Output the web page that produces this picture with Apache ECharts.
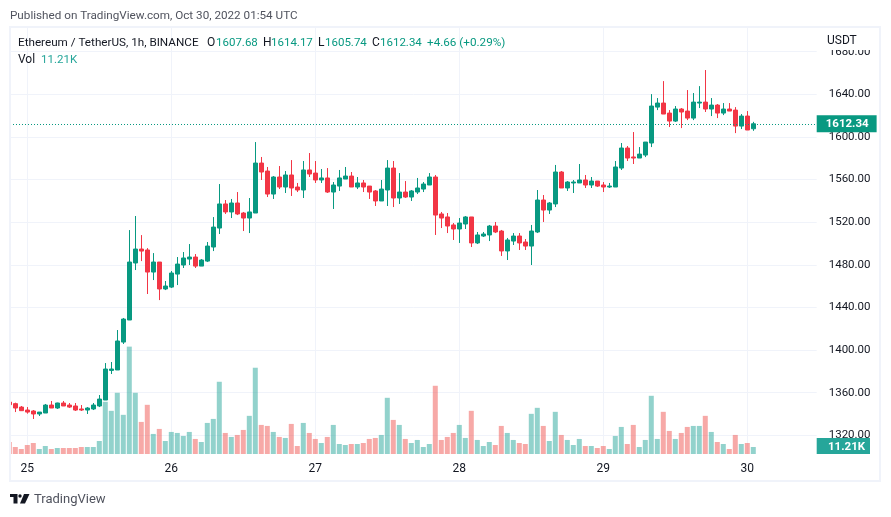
<!DOCTYPE html>
<html>
<head>
<meta charset="utf-8">
<title>ETHUSDT 1h</title>
<script src="https://cdn.jsdelivr.net/npm/echarts@6/dist/echarts.min.js"></script>
<style>
    html, body { margin: 0; padding: 0; background: #fff; }
    #main { width: 891px; height: 517px; }
</style>
</head>
<body>
<div id="main"></div>
<script>
var opens = [1351.2,1349.7,1346.5,1343.7,1342.8,1340.0,1340.9,1348.4,1345.6,1350.3,
    1348.4,1347.5,1344.7,1343.7,1344.7,1347.5,1353.1,1380.9,1381.3,1407.5,
    1428.2,1481.7,1494.8,1493.9,1473.2,1482.6,1457.3,1459.1,1471.3,1479.8,
    1485.4,1487.3,1478.8,1483.5,1496.7,1514.5,1537.1,1529.6,1538.0,1528.6,
    1523.9,1528.6,1575.5,1568.0,1546.4,1562.4,1553.0,1564.3,1553.0,1550.2,
    1569.0,1566.1,1559.6,1561.5,1548.3,1553.9,1560.5,1563.3,1553.0,1556.8,
    1553.9,1549.3,1539.9,1550.2,1570.8,1542.7,1548.3,1543.6,1548.3,1551.1,
    1554.9,1562.4,1527.7,1524.9,1517.4,1513.6,1518.3,1524.9,1500.5,1507.0,
    1508.0,1516.4,1511.7,1493.0,1502.3,1507.0,1501.4,1497.6,1510.8,1540.8,
    1531.4,1537.1,1567.1,1552.1,1556.8,1556.8,1559.6,1554.9,1558.6,1554.9,
    1553.0,1553.0,1570.8,1589.6,1581.2,1580.2,1583.0,1594.3,1628.0,1631.8,
    1622.4,1614.9,1626.2,1624.3,1617.7,1631.8,1632.7,1626.2,1629.9,1622.4,
    1626.2,1625.2,1610.2,1619.6,1607.68];
var closes = [1348.7,1345.6,1343.1,1341.8,1340.0,1341.8,1348.4,1345.6,1350.3,1347.5,
    1346.5,1343.7,1343.7,1345.6,1348.4,1354.0,1382.2,1382.2,1408.5,1429.1,
    1482.6,1494.8,1492.9,1473.2,1482.6,1457.3,1460.1,1472.3,1480.7,1486.4,
    1487.3,1478.8,1484.5,1497.6,1515.4,1537.1,1529.6,1538.0,1527.7,1523.9,
    1529.6,1575.5,1567.1,1546.4,1562.4,1553.0,1564.3,1552.1,1550.2,1569.0,
    1565.2,1559.6,1561.5,1548.3,1554.9,1561.5,1563.3,1553.0,1556.8,1553.0,
    1548.3,1539.9,1551.1,1570.8,1542.7,1548.3,1543.6,1549.3,1552.1,1555.8,
    1562.4,1526.7,1523.9,1516.4,1513.6,1519.2,1524.9,1500.5,1508.0,1508.9,
    1516.4,1510.8,1493.0,1503.3,1507.0,1500.5,1497.6,1511.7,1540.8,1531.4,
    1538.0,1567.1,1552.1,1557.7,1557.7,1559.6,1554.9,1558.6,1553.9,1553.0,
    1553.9,1571.8,1589.6,1580.2,1580.2,1583.9,1595.2,1629.0,1631.8,1621.5,
    1614.9,1626.2,1623.4,1617.7,1632.7,1632.7,1626.2,1629.9,1622.4,1626.2,
    1624.3,1610.2,1619.6,1606.5,1612.34];
var lows = [1348.7,1341.8,1342.8,1340.3,1335.3,1338.1,1340.9,1345.6,1344.7,1347.5,
    1345.6,1342.8,1342.8,1340.0,1343.7,1346.5,1353.1,1377.5,1381.3,1405.7,
    1428.2,1475.1,1483.5,1452.6,1465.7,1446.9,1456.3,1458.2,1461.0,1477.0,
    1479.8,1477.0,1478.8,1482.6,1492.9,1508.9,1527.7,1523.9,1526.7,1511.7,
    1509.8,1528.6,1559.6,1543.6,1541.8,1551.1,1547.4,1544.6,1548.3,1542.7,
    1562.4,1556.8,1556.8,1547.4,1532.4,1549.3,1560.5,1553.0,1551.1,1548.3,
    1541.8,1535.2,1539.9,1535.2,1534.2,1537.1,1542.7,1539.9,1546.4,1548.3,
    1554.9,1508.0,1514.5,1509.8,1503.3,1500.5,1513.6,1496.7,1499.5,1506.1,
    1502.3,1509.8,1488.3,1484.5,1498.6,1493.9,1493.9,1479.8,1509.8,1520.2,
    1527.7,1534.2,1552.1,1549.3,1547.4,1556.8,1552.1,1552.1,1553.0,1548.3,
    1552.1,1553.0,1569.0,1577.4,1574.6,1580.2,1581.1,1590.5,1625.2,1621.5,
    1609.3,1614.0,1608.3,1615.8,1615.8,1627.1,1623.4,1619.6,1617.7,1620.5,
    1624.3,1603.6,1607.4,1606.5,1605.74];
var highs = [1351.2,1350.6,1347.5,1346.5,1343.7,1341.8,1349.4,1352.2,1350.6,1352.2,
    1350.3,1350.3,1348.4,1346.5,1350.3,1357.8,1387.8,1388.8,1418.8,1430.1,
    1512.6,1525.8,1507.9,1495.7,1491.0,1482.6,1464.8,1474.2,1487.3,1492.0,
    1499.5,1490.1,1485.4,1501.4,1524.8,1555.8,1540.8,1541.8,1548.3,1529.6,
    1542.7,1595.2,1581.2,1571.8,1563.3,1572.7,1568.0,1578.3,1556.8,1577.4,
    1584.9,1577.4,1569.9,1570.8,1557.7,1569.0,1571.8,1567.1,1562.4,1559.6,
    1553.9,1550.2,1559.6,1578.3,1577.4,1566.1,1558.6,1550.2,1561.5,1557.7,
    1566.1,1564.3,1529.6,1528.6,1519.2,1523.9,1525.8,1524.9,1510.8,1510.8,
    1517.4,1520.2,1512.7,1505.2,1509.8,1509.8,1504.2,1517.4,1550.2,1545.5,
    1538.9,1573.7,1568.0,1558.6,1559.6,1574.6,1564.3,1562.4,1558.6,1557.7,
    1556.8,1577.4,1594.3,1591.5,1604.6,1590.5,1595.2,1640.2,1636.5,1652.4,
    1625.2,1629.0,1627.1,1644.0,1641.2,1647.7,1662.8,1636.5,1630.9,1631.8,
    1631.8,1628.0,1621.5,1624.3,1614.17];
// thousands of ETH
var volumes = [19.2,11.2,8.0,14.4,17.6,8.0,12.8,8.0,9.6,9.6,
    9.6,9.6,11.2,11.2,11.2,20.8,83.3,68.9,97.7,62.5,
    171.4,97.7,51.2,78.5,32.0,40.0,20.8,35.2,33.6,28.8,
    35.2,24.0,19.2,49.6,56.0,115.3,33.6,27.2,30.4,38.4,
    60.9,137.7,46.4,44.8,35.2,27.2,25.6,48.0,12.8,49.6,
    33.6,24.0,17.6,27.2,46.4,16.0,14.4,16.0,16.0,17.6,
    24.0,25.6,30.4,89.7,54.4,46.4,24.0,17.6,22.4,11.2,
    16.0,108.9,22.4,27.2,33.6,46.4,25.6,68.9,22.4,12.8,
    19.2,14.4,44.8,33.6,22.4,17.6,16.0,64.1,73.7,44.8,
    20.8,67.3,30.4,22.4,14.4,24.0,12.8,12.8,9.6,12.8,
    8.0,28.8,43.2,16.0,46.4,11.2,22.4,92.9,24.0,67.3,
    36.8,24.0,33.6,43.2,44.8,44.8,60.9,35.2,19.2,16.0,
    8.0,30.4,16.0,17.6,11.21];
var dayTicks = [0, 24, 48, 72, 96, 120];
var dayLabels = ['25', '26', '27', '28', '29', '30'];

var font = 'Roboto, "Noto Sans", sans-serif';
var up = '#089981', down = '#f23645', ink = '#131722', gridColor = '#f0f3fa';
var firstHour = -3;   // the first candle is 3 hours before the "25" tick

var hours = opens.map(function (v, i) { return firstHour + i; });
var candleData = opens.map(function (v, i) {
    return [hours[i], opens[i], closes[i], lows[i], highs[i]];
});
var volumeData = volumes.map(function (v, i) { return [hours[i], v]; });
var lastClose = closes[closes.length - 1];

function txt(x, y, text, fill, size) {
    return {
        type: 'text', x: x, y: y, z: 101,
        style: { text: text, fill: fill || ink, font: (size || 12) + 'px ' + font, verticalAlign: 'middle' }
    };
}

var xRange = { min: -2.883, max: 131.57 };

var myChart = echarts.init(document.getElementById('main'));

var option = {
    animation: false,
    backgroundColor: '#fff',
    grid: [
        { left: 10, width: 806.7, top: 51.7, height: 383.6 },
        { left: 10, width: 806.7, top: 28, height: 426 }
    ],
    xAxis: [{
        type: 'value', gridIndex: 0, min: xRange.min, max: xRange.max, show: false
    }, {
        type: 'value', gridIndex: 1, min: xRange.min, max: xRange.max,
        axisLine: { show: false },
        axisTick: { show: false, customValues: dayTicks },
        splitLine: { show: true, lineStyle: { color: gridColor, width: 1 } },
        axisLabel: {
            customValues: dayTicks, color: ink, fontSize: 12, fontFamily: font, margin: 9,
            formatter: function (v) { return dayLabels[dayTicks.indexOf(v)]; }
        }
    }],
    yAxis: [{
        type: 'value', gridIndex: 0, position: 'right', min: 1320, max: 1680, interval: 40,
        axisLine: { show: false }, axisTick: { show: false },
        splitLine: { show: true, lineStyle: { color: gridColor, width: 1 } },
        axisLabel: {
            color: ink, fontSize: 11.5, fontFamily: font, margin: 12, padding: [2, 0, 0, 0],
            formatter: function (v) { return v.toFixed(2); }
        }
    }, {
        type: 'value', gridIndex: 1, position: 'right', min: 0, max: 680, show: false
    }],
    series: [{
        type: 'bar',
        name: 'Vol',
        xAxisIndex: 1,
        yAxisIndex: 1,
        barWidth: 5,
        data: volumeData,
        itemStyle: {
            color: function (p) {
                return closes[p.dataIndex] >= opens[p.dataIndex] ? 'rgba(38,166,154,0.5)' : 'rgba(239,83,80,0.5)';
            }
        }
    }, {
        type: 'candlestick',
        name: 'ETHUSDT',
        xAxisIndex: 0,
        yAxisIndex: 0,
        barWidth: 4,
        encode: { x: 0, y: [1, 2, 3, 4] },
        data: candleData,
        itemStyle: { color: up, color0: down, borderColor: up, borderColor0: down, borderWidth: 1 },
        markLine: {
            silent: true,
            symbol: 'none',
            animation: false,
            lineStyle: { color: up, type: [1, 2], width: 1 },
            label: {
                position: 'end', distance: 0, color: '#fff', backgroundColor: up,
                fontSize: 11.5, fontWeight: 'bold', fontFamily: font, padding: [3, 8, 2, 9],
                formatter: function () { return lastClose.toFixed(2); }
            },
            data: [{ yAxis: lastClose }]
        }
    }],
    graphic: [
        // the first candle sticks out of the panel on the left, keep it inside
        { type: 'rect', z: 100, shape: { x: 0, y: 28, width: 9, height: 430 }, style: { fill: '#fff' } },
        // panel frame
        { type: 'rect', z: 100, shape: { x: 10, y: 27, width: 870, height: 454 },
          style: { fill: 'none', stroke: gridColor, lineWidth: 2 } },
        // hides the top of the 1680 label, as in the original
        { type: 'rect', z: 100, shape: { x: 817, y: 29, width: 62, height: 21 }, style: { fill: '#fff' } },
        txt(827, 41, 'USDT'),
        // volume tag
        { type: 'rect', z: 100, shape: { x: 816.7, y: 438, width: 53.3, height: 16 }, style: { fill: '#26a69a' } },
        { type: 'text', x: 828, y: 447, z: 101,
          style: { text: '11.21K', fill: '#fff', font: 'bold 11.5px ' + font, verticalAlign: 'middle' } },
        // header
        txt(10, 16, 'Published on TradingView.com, Oct 30, 2022 01:54 UTC', '#50535e', 11.7),
        txt(18, 43, 'Ethereum / TetherUS, 1h, BINANCE', ink, 11.7),
        txt(207, 43, 'O'), txt(216, 43, '1607.68', up, 11.5),
        txt(263, 43, 'H'), txt(271, 43, '1614.17', up, 11.5),
        txt(318, 43, 'L'), txt(325, 43, '1605.74', up, 11.5),
        txt(372, 43, 'C'), txt(380, 43, '1612.34', up, 11.5),
        txt(427, 43, '+4.66 (+0.29%)', up, 11.7),
        txt(18, 60, 'Vol'), txt(41, 60, '11.21K', '#26a69a', 11.5),
        // footer logo
        { type: 'polygon', z: 101, shape: { points: [[10, 494], [17.5, 494], [17.5, 503.5], [13.5, 503.5], [13.5, 497], [10, 497]] }, style: { fill: ink } },
        { type: 'circle', z: 101, shape: { cx: 20, cy: 496, r: 1.7 }, style: { fill: ink } },
        { type: 'polygon', z: 101, shape: { points: [[24, 494], [29.5, 494], [25, 503.5], [20, 503.5]] }, style: { fill: ink } },
        txt(34, 500, 'TradingView', '#50535e', 13)
    ]
};

myChart.setOption(option);
</script>
</body>
</html>
